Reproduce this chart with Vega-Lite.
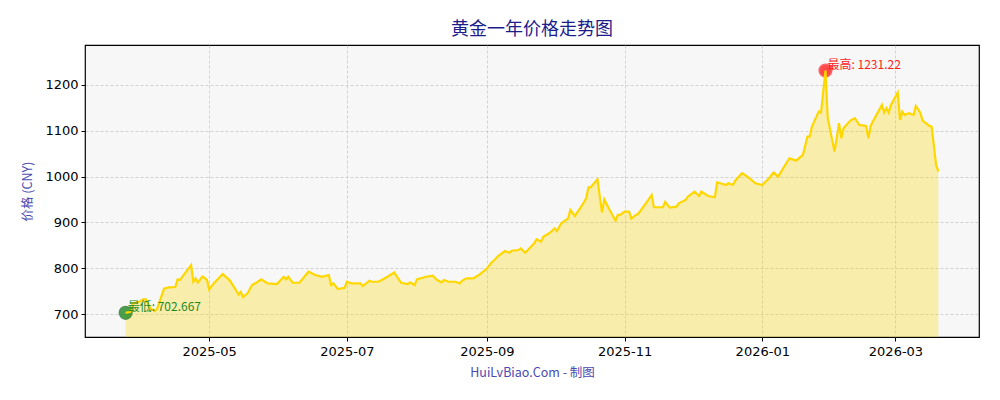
{
  "$schema": "https://vega.github.io/schema/vega-lite/v6.json",
  "width": 894,
  "height": 292,
  "autosize": {"type": "none"},
  "padding": {"left": 85, "top": 45, "right": 21, "bottom": 63},
  "background": "white",
  "view": {"stroke": "black", "strokeWidth": 1.2, "fill": "#f7f7f7"},
  "title": {
    "text": "黄金一年价格走势图",
    "font": "Noto Sans CJK SC",
    "fontSize": 18,
    "fontWeight": "normal",
    "color": "#1c1c8c",
    "anchor": "middle",
    "offset": 6
  },
  "config": {
    "axis": {
      "labelFont": "DejaVu Sans",
      "labelFontSize": 13,
      "labelColor": "black",
      "tickColor": "black",
      "tickSize": 4,
      "domain": false,
      "grid": true,
      "gridColor": "#b8b8b8",
      "gridDash": [3, 2],
      "gridWidth": 0.6,
      "titleFont": "Noto Sans CJK SC",
      "titleFontSize": 12.5,
      "titleFontWeight": "normal",
      "titleColor": "#4a4ab0"
    }
  },
  "datasets": {
    "gold": [
      {"date": "2025-03-25", "price": 702.667},
      {"date": "2025-03-27", "price": 705},
      {"date": "2025-03-28", "price": 723.4},
      {"date": "2025-03-31", "price": 726.9},
      {"date": "2025-04-02", "price": 732.8},
      {"date": "2025-04-03", "price": 731.7},
      {"date": "2025-04-05", "price": 712},
      {"date": "2025-04-07", "price": 706.5},
      {"date": "2025-04-08", "price": 712.4},
      {"date": "2025-04-11", "price": 755.7},
      {"date": "2025-04-13", "price": 758.3},
      {"date": "2025-04-16", "price": 759},
      {"date": "2025-04-17", "price": 775.8},
      {"date": "2025-04-18", "price": 774.2},
      {"date": "2025-04-23", "price": 807},
      {"date": "2025-04-24", "price": 770.5},
      {"date": "2025-04-25", "price": 778},
      {"date": "2025-04-26", "price": 768.8},
      {"date": "2025-04-28", "price": 781.9},
      {"date": "2025-04-30", "price": 774.9},
      {"date": "2025-05-01", "price": 753.9},
      {"date": "2025-05-03", "price": 767},
      {"date": "2025-05-07", "price": 787.3},
      {"date": "2025-05-10", "price": 774.2},
      {"date": "2025-05-13", "price": 751.3},
      {"date": "2025-05-14", "price": 742.6},
      {"date": "2025-05-15", "price": 748.7},
      {"date": "2025-05-16", "price": 737.1},
      {"date": "2025-05-18", "price": 745.2},
      {"date": "2025-05-20", "price": 763.3},
      {"date": "2025-05-22", "price": 768.8},
      {"date": "2025-05-24", "price": 775.8},
      {"date": "2025-05-27", "price": 767},
      {"date": "2025-05-31", "price": 765.5},
      {"date": "2025-06-03", "price": 781.4},
      {"date": "2025-06-04", "price": 775.8},
      {"date": "2025-06-05", "price": 781.4},
      {"date": "2025-06-07", "price": 768.3},
      {"date": "2025-06-10", "price": 768.3},
      {"date": "2025-06-14", "price": 792.4},
      {"date": "2025-06-17", "price": 785.2},
      {"date": "2025-06-20", "price": 781.4},
      {"date": "2025-06-23", "price": 785.2},
      {"date": "2025-06-24", "price": 763.3},
      {"date": "2025-06-25", "price": 767},
      {"date": "2025-06-27", "price": 754.6},
      {"date": "2025-06-30", "price": 757.4},
      {"date": "2025-07-01", "price": 770.5},
      {"date": "2025-07-03", "price": 767},
      {"date": "2025-07-07", "price": 767},
      {"date": "2025-07-08", "price": 761.1},
      {"date": "2025-07-11", "price": 772.7},
      {"date": "2025-07-12", "price": 770.5},
      {"date": "2025-07-15", "price": 770.5},
      {"date": "2025-07-19", "price": 781.4},
      {"date": "2025-07-22", "price": 790.6},
      {"date": "2025-07-25", "price": 768.3},
      {"date": "2025-07-28", "price": 765.5},
      {"date": "2025-07-29", "price": 769.2},
      {"date": "2025-07-31", "price": 763.3},
      {"date": "2025-08-01", "price": 775.8},
      {"date": "2025-08-05", "price": 781.4},
      {"date": "2025-08-08", "price": 783.6},
      {"date": "2025-08-10", "price": 774.2},
      {"date": "2025-08-12", "price": 769.2},
      {"date": "2025-08-13", "price": 774.2},
      {"date": "2025-08-15", "price": 770.5},
      {"date": "2025-08-18", "price": 770.5},
      {"date": "2025-08-20", "price": 767},
      {"date": "2025-08-21", "price": 772.7},
      {"date": "2025-08-23", "price": 778},
      {"date": "2025-08-26", "price": 778},
      {"date": "2025-08-29", "price": 787.3},
      {"date": "2025-09-01", "price": 799.3},
      {"date": "2025-09-03", "price": 811.9},
      {"date": "2025-09-04", "price": 816.4},
      {"date": "2025-09-06", "price": 826.6},
      {"date": "2025-09-09", "price": 837.6},
      {"date": "2025-09-11", "price": 833.8},
      {"date": "2025-09-12", "price": 838.2},
      {"date": "2025-09-15", "price": 839.7},
      {"date": "2025-09-16", "price": 843.4},
      {"date": "2025-09-18", "price": 833.8},
      {"date": "2025-09-22", "price": 854.4},
      {"date": "2025-09-23", "price": 863.1},
      {"date": "2025-09-25", "price": 857.9},
      {"date": "2025-09-26", "price": 868.8},
      {"date": "2025-09-29", "price": 877.5},
      {"date": "2025-10-01", "price": 887.1},
      {"date": "2025-10-02", "price": 881.2},
      {"date": "2025-10-04", "price": 898},
      {"date": "2025-10-07", "price": 909},
      {"date": "2025-10-08", "price": 927.1},
      {"date": "2025-10-10", "price": 914},
      {"date": "2025-10-13", "price": 935.8},
      {"date": "2025-10-15", "price": 952.6},
      {"date": "2025-10-16", "price": 976.6},
      {"date": "2025-10-17", "price": 976.6},
      {"date": "2025-10-20", "price": 994.1},
      {"date": "2025-10-22", "price": 921.2},
      {"date": "2025-10-23", "price": 950.4},
      {"date": "2025-10-25", "price": 930.8},
      {"date": "2025-10-28", "price": 903.7},
      {"date": "2025-10-29", "price": 916.2},
      {"date": "2025-10-30", "price": 916.2},
      {"date": "2025-11-01", "price": 923.4},
      {"date": "2025-11-03", "price": 923.4},
      {"date": "2025-11-04", "price": 908.1},
      {"date": "2025-11-06", "price": 916.2},
      {"date": "2025-11-07", "price": 918.3},
      {"date": "2025-11-11", "price": 945.2},
      {"date": "2025-11-13", "price": 959.8},
      {"date": "2025-11-14", "price": 933},
      {"date": "2025-11-18", "price": 933},
      {"date": "2025-11-19", "price": 944.5},
      {"date": "2025-11-21", "price": 932.1},
      {"date": "2025-11-24", "price": 934.3},
      {"date": "2025-11-25", "price": 941.7},
      {"date": "2025-11-28", "price": 948.9},
      {"date": "2025-11-29", "price": 956.1},
      {"date": "2025-12-02", "price": 967},
      {"date": "2025-12-04", "price": 957.6},
      {"date": "2025-12-05", "price": 967},
      {"date": "2025-12-08", "price": 957.6},
      {"date": "2025-12-11", "price": 954.8},
      {"date": "2025-12-12", "price": 987.5},
      {"date": "2025-12-16", "price": 981.7},
      {"date": "2025-12-17", "price": 985.4},
      {"date": "2025-12-19", "price": 981.7},
      {"date": "2025-12-20", "price": 991},
      {"date": "2025-12-23", "price": 1007.2},
      {"date": "2025-12-25", "price": 1001.3},
      {"date": "2025-12-29", "price": 985.4},
      {"date": "2026-01-01", "price": 981.7},
      {"date": "2026-01-04", "price": 996.3},
      {"date": "2026-01-06", "price": 1009},
      {"date": "2026-01-08", "price": 999.8},
      {"date": "2026-01-13", "price": 1040},
      {"date": "2026-01-16", "price": 1034.7},
      {"date": "2026-01-19", "price": 1047.2},
      {"date": "2026-01-21", "price": 1087.1},
      {"date": "2026-01-22", "price": 1087.1},
      {"date": "2026-01-23", "price": 1109},
      {"date": "2026-01-26", "price": 1141.7},
      {"date": "2026-01-27", "price": 1139.5},
      {"date": "2026-01-29", "price": 1231.22},
      {"date": "2026-01-30", "price": 1127.3},
      {"date": "2026-02-02", "price": 1054.4},
      {"date": "2026-02-04", "price": 1116.4},
      {"date": "2026-02-05", "price": 1083.6},
      {"date": "2026-02-06", "price": 1105.5},
      {"date": "2026-02-09", "price": 1122},
      {"date": "2026-02-11", "price": 1127.3},
      {"date": "2026-02-13", "price": 1112.7},
      {"date": "2026-02-16", "price": 1110.5},
      {"date": "2026-02-17", "price": 1083.6},
      {"date": "2026-02-18", "price": 1110.5},
      {"date": "2026-02-19", "price": 1119.9},
      {"date": "2026-02-23", "price": 1156.3},
      {"date": "2026-02-24", "price": 1139.5},
      {"date": "2026-02-25", "price": 1149.1},
      {"date": "2026-02-26", "price": 1139.5},
      {"date": "2026-02-27", "price": 1156.3},
      {"date": "2026-03-02", "price": 1183.2},
      {"date": "2026-03-03", "price": 1123.6},
      {"date": "2026-03-04", "price": 1141.7},
      {"date": "2026-03-05", "price": 1134.5},
      {"date": "2026-03-07", "price": 1138.2},
      {"date": "2026-03-09", "price": 1134.5},
      {"date": "2026-03-10", "price": 1154.2},
      {"date": "2026-03-12", "price": 1139.5},
      {"date": "2026-03-13", "price": 1122},
      {"date": "2026-03-16", "price": 1110.5},
      {"date": "2026-03-17", "price": 1109},
      {"date": "2026-03-19", "price": 1025.3},
      {"date": "2026-03-20", "price": 1010.7}
    ],
    "extremes": [
      {"date": "2025-03-25", "price": 702.667, "label": "最低: 702.667", "kind": "low"},
      {"date": "2026-01-29", "price": 1231.22, "label": "最高: 1231.22", "kind": "high"}
    ]
  },
  "encoding": {
    "x": {
      "field": "date",
      "type": "temporal",
      "scale": {"type": "utc", "domain": ["2025-03-07", "2026-04-07"]},
      "axis": {
        "format": "%Y-%m",
        "tickCount": {"interval": "month", "step": 2},
        "labelPadding": 4,
        "title": "HuiLvBiao.Com - 制图",
        "titlePadding": 8
      }
    },
    "y": {
      "field": "price",
      "type": "quantitative",
      "scale": {"domain": [650, 1287], "zero": false, "nice": false},
      "axis": {
        "values": [700, 800, 900, 1000, 1100, 1200],
        "format": "d",
        "labelPadding": 3,
        "title": "价格 (CNY)",
        "titlePadding": 10
      }
    }
  },
  "layer": [
    {
      "data": {"name": "gold"},
      "mark": {"type": "area", "color": "#FFD700", "opacity": 0.3},
      "encoding": {"y2": {"datum": 650}}
    },
    {
      "data": {"name": "extremes"},
      "mark": {"type": "circle", "size": 160, "opacity": 0.8, "strokeWidth": 1.5},
      "encoding": {
        "color": {
          "field": "kind",
          "type": "nominal",
          "scale": {"domain": ["low", "high"], "range": ["#1f8a1f", "#ff2020"]},
          "legend": null
        },
        "stroke": {
          "field": "kind",
          "type": "nominal",
          "scale": {"domain": ["low", "high"], "range": ["#2a7a2a", "#ff4040"]},
          "legend": null
        }
      }
    },
    {
      "data": {"name": "gold"},
      "mark": {"type": "line", "color": "#FFD700", "strokeWidth": 2.2}
    },
    {
      "data": {"name": "extremes"},
      "mark": {"type": "text", "align": "left", "baseline": "middle", "dx": 2, "dy": -6, "font": "Noto Sans CJK SC", "fontSize": 12},
      "encoding": {
        "text": {"field": "label"},
        "color": {
          "field": "kind",
          "type": "nominal",
          "scale": {"domain": ["low", "high"], "range": ["#2ca02c", "#ff3030"]},
          "legend": null
        }
      }
    }
  ]
}
